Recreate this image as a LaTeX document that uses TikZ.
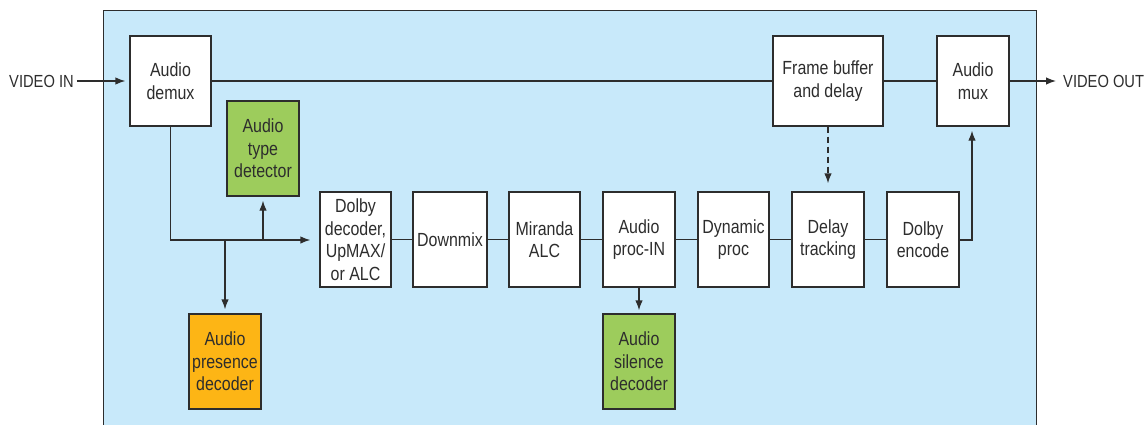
\documentclass[tikz,border=0pt]{standalone}
\usepackage{fontspec}
\setmainfont[FakeStretch=0.84]{Liberation Sans}
\usetikzlibrary{arrows.meta}
\definecolor{bgblue}{RGB}{200,233,250}
\definecolor{boxgreen}{RGB}{157,204,92}
\definecolor{boxorange}{RGB}{253,181,21}
\definecolor{ink}{RGB}{45,45,45}
\tikzset{
  blk/.style={draw=ink, line width=1.3pt, fill=white, inner sep=0pt, align=center,
    text=ink, font=\fontsize{19}{22.5}\selectfont},
  conn/.style={draw=ink, line width=1.3pt},
  arr/.style={conn, -{Latex[length=10pt,width=7.5pt]}},
  lbl/.style={text=ink, font=\fontsize{17.5}{21}\selectfont, inner sep=0pt}
}
\begin{document}
\begin{tikzpicture}[x=1pt,y=-1pt]
\useasboundingbox (0,0) rectangle (1145,425);
\clip (0,0) rectangle (1145,425);
\filldraw[fill=bgblue, draw=ink, line width=1pt] (103,11) rectangle (1036,440);
% top row
\node[blk, minimum width=81pt, minimum height=90pt] (demux) at (170.5,81) {Audio\\demux};
\node[blk, minimum width=110pt, minimum height=90pt] (fb) at (828,81) {Frame buffer\\and delay};
\node[blk, minimum width=72pt, minimum height=90pt] (mux) at (973,81) {Audio\\mux};
% side boxes
\node[blk, fill=boxgreen, minimum width=72pt, minimum height=95pt] (type) at (263,148.5) {Audio\\type\\detector};
\node[blk, fill=boxorange, minimum width=72pt, minimum height=95pt] (pres) at (225,361.5) {Audio\\presence\\decoder};
\node[blk, fill=boxgreen, minimum width=72pt, minimum height=95pt] (sil) at (639,361.5) {Audio\\silence\\decoder};
% middle row
\node[blk, minimum width=71pt, minimum height=95pt] (dec) at (355.5,239.5) {Dolby\\decoder,\\UpMAX/\\or ALC};
\node[blk, minimum width=74pt, minimum height=95pt] (dmx) at (450,239.5) {Downmix};
\node[blk, minimum width=71pt, minimum height=95pt] (alc) at (544.5,239.5) {Miranda\\ALC};
\node[blk, minimum width=72pt, minimum height=95pt] (pin) at (639,239.5) {Audio\\proc-IN};
\node[blk, minimum width=71pt, minimum height=95pt] (dyn) at (733.5,239.5) {Dynamic\\proc};
\node[blk, minimum width=72pt, minimum height=95pt] (dly) at (828,239.5) {Delay\\tracking};
\node[blk, minimum width=72pt, minimum height=95pt] (enc) at (923,239.5) {Dolby\\encode};
% labels
\node[lbl, anchor=west] (vin) at (9,81) {VIDEO IN};
\node[lbl, anchor=west] (vout) at (1063,81) {VIDEO OUT};
% coordinates
\coordinate (j1) at (170.5,240);
\coordinate (j2) at (225,240);
\coordinate (j3) at (263,240);
\coordinate (j4) at (972,240);
% connectors
\draw[arr, shorten <=3pt, shorten >=4pt] (vin.east) -- (demux.west);
\draw[conn] (demux.east) -- (fb.west);
\draw[conn] (fb.east) -- (mux.west);
\draw[arr, shorten >=7pt] (mux.east) -- (vout.west);
\draw[arr, shorten >=9pt] (demux.south) -- (j1) -- (dec.west |- j1);
\draw[arr, shorten >=4pt] (j3) -- (type.south);
\draw[arr, shorten >=4pt] (j2) -- (pres.north);
\draw[conn] (dec.east) -- (dmx.west);
\draw[conn] (dmx.east) -- (alc.west);
\draw[conn] (alc.east) -- (pin.west);
\draw[conn] (pin.east) -- (dyn.west);
\draw[conn] (dyn.east) -- (dly.west);
\draw[conn] (dly.east) -- (enc.west);
\draw[arr, shorten >=3pt] (pin.south) -- (sil.north);
\draw[arr, shorten >=4pt] (enc.east |- j4) -- (j4) -- (j4 |- mux.south);
\draw[arr, dash pattern=on 6pt off 4pt, shorten >=8pt] (fb.south) -- (dly.north);
\end{tikzpicture}
\end{document}
